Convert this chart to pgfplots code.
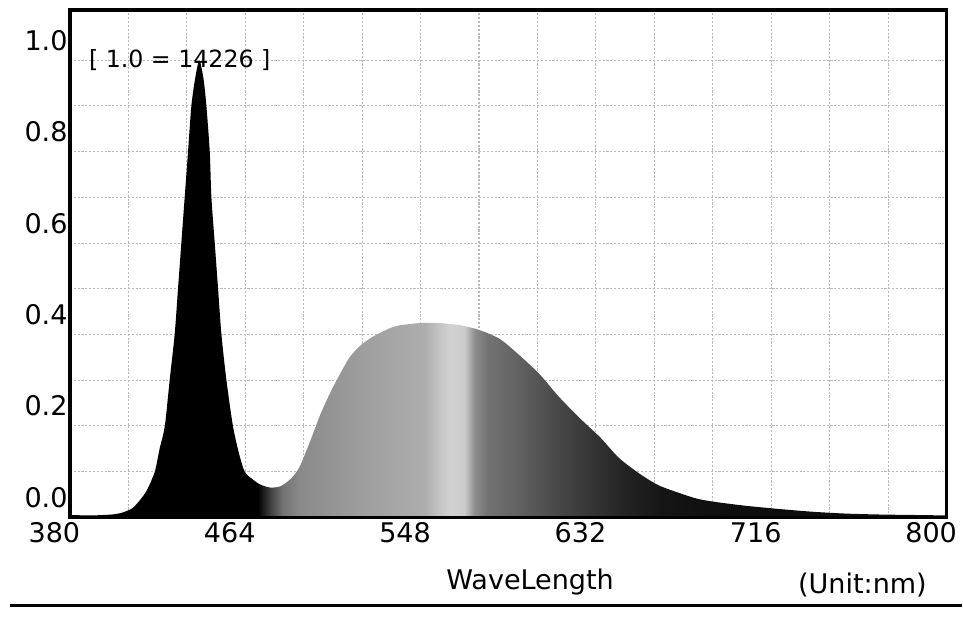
\documentclass[border=0pt]{standalone}
\usepackage{pgfplots}
\pgfplotsset{compat=1.18}
\usepackage{fontspec}
\setmainfont{DejaVu Sans}

% grey ramp of the photo, 25bp = 380 nm, 75bp = 800 nm
\pgfdeclarehorizontalshading{spec}{100bp}{%
  color(0bp)=(black); color(25bp)=(black); color(35.71bp)=(black);
  color(36.43bp)=(black!75); color(37.14bp)=(black!55); color(38.10bp)=(black!46);
  color(41.67bp)=(black!38); color(45.24bp)=(black!32); color(45.95bp)=(black!24);
  color(46.67bp)=(black!18); color(47.50bp)=(black!20); color(48.10bp)=(black!45);
  color(48.81bp)=(black!55); color(50.60bp)=(black!62); color(52.38bp)=(black!70);
  color(54.17bp)=(black!77); color(56.55bp)=(black!86); color(58.93bp)=(black!92);
  color(63.10bp)=(black!95); color(75bp)=(black!95); color(100bp)=(black!95)}

\pgfplotstableread{
nm     rel
380    0.005
390    0.004
400    0.006
405    0.010
410    0.020
414    0.040
417    0.060
420.7  0.100
423    0.150
425.5  0.200
427.8  0.300
430.2  0.400
431.8  0.500
433.4  0.600
435    0.700
436.6  0.800
438.2  0.900
440    0.960
442    1.000
444    0.960
445.4  0.900
447    0.800
447.8  0.700
449.4  0.600
451    0.500
452.6  0.400
455    0.300
458.1  0.200
461    0.140
463.7  0.100
467    0.085
471    0.072
476    0.065
481    0.068
486    0.085
490    0.110
495    0.165
500    0.225
505    0.275
509    0.310
514    0.350
519    0.375
524    0.392
528    0.402
533    0.413
538    0.420
548    0.425
557    0.425
567    0.420
576    0.410
586    0.390
595    0.356
605    0.313
614    0.265
624    0.218
634    0.175
643    0.130
653    0.095
662    0.070
672    0.053
681    0.040
690    0.033
704    0.025
720    0.018
736    0.012
752    0.008
768    0.006
784    0.005
800    0.004
}\spectrum

\begin{document}
\begin{tikzpicture}
\begin{axis}[
    scale only axis,
    width=17.56cm, height=10.16cm,
    xmin=380, xmax=800, ymin=0, ymax=1.11,
    clip=false,
    xtick={380,464,548,632,716,800},
    minor xtick={408,436,492,520,576,604,660,688,744,772},
    ytick={0,0.2,0.4,0.6,0.8,1.0},
    minor ytick={0.1,0.3,0.5,0.7,0.9},
    grid=both,
    major grid style={gray!55, line width=0.6pt, dash pattern=on 1.2pt off 1pt},
    minor grid style={gray!55, line width=0.6pt, dash pattern=on 1.2pt off 1pt},
    major tick length=0pt, minor tick length=0pt,
    axis line style={line width=0.07cm},
    tick label style={font=\fontsize{15.4pt}{18pt}\selectfont, inner sep=0pt},
    xticklabel style={anchor=north, xshift=-0.31cm, yshift=-0.09cm},
    yticklabel style={anchor=base east, xshift=-0.04cm, yshift=0.2cm,
        /pgf/number format/.cd, fixed, fixed zerofill, precision=1},
    /pgf/number format/assume math mode=true,
]
\node[anchor=west, inner sep=0pt, font=\fontsize{13.5pt}{16pt}\selectfont]
    at (axis cs:389,1.0) {[ 1.0 = 14226 ]};
\addplot[draw=none, shading=spec, smooth, tension=0.45] table[x=nm, y=rel] {\spectrum} \closedcycle;
\draw[line width=0.07cm] (rel axis cs:0,0) rectangle (rel axis cs:1,1);
\node[anchor=base, inner sep=0pt, font=\fontsize{15.4pt}{18pt}\selectfont]
    at (rel axis cs:0.525,-0.142) {WaveLength};
\node[anchor=base, inner sep=0pt, font=\fontsize{15.4pt}{18pt}\selectfont]
    at (rel axis cs:0.904,-0.150) {(Unit:nm)};
\draw[line width=0.06cm] (rel axis cs:-0.068,-0.173) -- (rel axis cs:1.017,-0.173);
\path (rel axis cs:-0.0797,-0.1969) rectangle (rel axis cs:1.0171,1.0197);
\end{axis}
\end{tikzpicture}
\end{document}
